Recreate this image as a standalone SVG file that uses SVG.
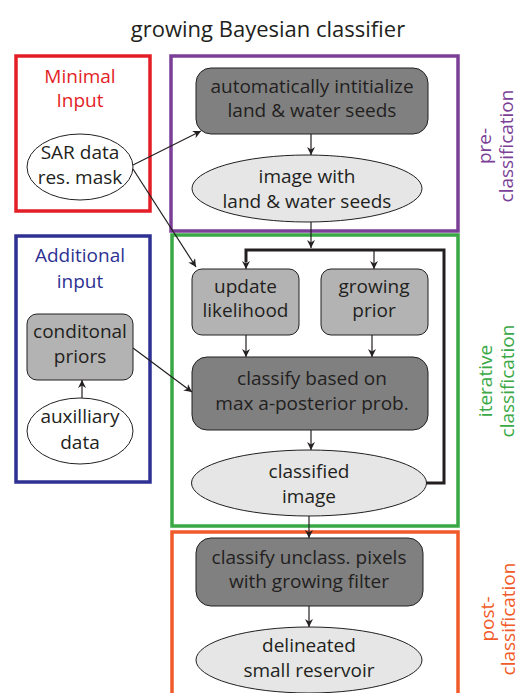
<svg xmlns="http://www.w3.org/2000/svg" width="520" height="693" viewBox="0 0 520 693">
<defs>
<marker id="ah" viewBox="0 0 10 10" refX="10" refY="5" markerWidth="8" markerHeight="8" markerUnits="userSpaceOnUse" orient="auto">
<path d="M0,0 L10,5 L0,10 L3,5 z" fill="#231f20"/>
</marker>
<style>
text{font-family:"Open Sans","Liberation Sans",sans-serif;font-size:19px;fill:#231f20;text-anchor:middle}
.dark{fill:#808080;stroke:#231f20;stroke-width:1}
.light{fill:#b3b3b3;stroke:#231f20;stroke-width:1}
.ell{fill:#e6e6e6;stroke:#231f20;stroke-width:1}
.wht{fill:#ffffff;stroke:#231f20;stroke-width:1}
.con{fill:none;stroke:#231f20;stroke-width:1.2;marker-end:url(#ah)}
.frame{fill:none;stroke-width:3.5}
</style>
</defs>
<rect width="520" height="693" fill="#ffffff"/>
<text x="268" y="37" style="font-size:22px">growing Bayesian classifier</text>

<g id="frames">
<rect x="16" y="56" width="134" height="155" class="frame" stroke="#e31e26"/>
<rect x="171" y="56" width="287" height="175" class="frame" stroke="#7b3f98"/>
<rect x="16" y="236" width="134" height="246" class="frame" stroke="#2e3192"/>
<rect x="172" y="235" width="286" height="291" class="frame" stroke="#39a845"/>
<rect x="172" y="532" width="286" height="170" class="frame" stroke="#f15a29"/>
</g>

<g id="labels">
<text x="80" y="83" style="fill:#e31e26">Minimal</text>
<text x="80" y="107" style="fill:#e31e26">Input</text>
<text x="80" y="262" style="fill:#2e3192">Additional</text>
<text x="80" y="288" style="fill:#2e3192">input</text>
<text transform="translate(491,146) rotate(-90)" style="fill:#7b3f98">pre-</text>
<text transform="translate(513,146) rotate(-90)" style="fill:#7b3f98">classification</text>
<text transform="translate(492,381) rotate(-90)" style="fill:#39a845">iterative</text>
<text transform="translate(514,381) rotate(-90)" style="fill:#39a845">classification</text>
<text transform="translate(494,619) rotate(-90)" style="fill:#f15a29">post-</text>
<text transform="translate(515,619) rotate(-90)" style="fill:#f15a29">classification</text>
</g>

<g id="connectors">
<line x1="133" y1="165" x2="201" y2="131" class="con"/>
<line x1="133" y1="169" x2="196" y2="267" class="con"/>
<line x1="311" y1="134" x2="311" y2="155" class="con"/>
<line x1="311" y1="222" x2="311" y2="248" class="con"/>
<path d="M426,483 H444 V250 H246 V262" class="con" style="stroke-width:3;marker-end:none"/>
<line x1="246" y1="251" x2="246" y2="269" class="con"/>
<line x1="374" y1="251" x2="374" y2="269" class="con"/>
<line x1="246" y1="335" x2="246" y2="357" class="con"/>
<line x1="372" y1="335" x2="372" y2="357" class="con"/>
<line x1="133" y1="348" x2="192" y2="392" class="con"/>
<line x1="82" y1="398" x2="82" y2="380" class="con"/>
<line x1="311" y1="430" x2="311" y2="450" class="con"/>
<line x1="309" y1="516" x2="309" y2="538" class="con"/>
<line x1="309" y1="606" x2="309" y2="627" class="con"/>
</g>

<g id="sar">
<ellipse cx="80" cy="167" rx="53" ry="33" class="wht"/>
<text x="80" y="159">SAR data</text>
<text x="80" y="184">res. mask</text>
</g>

<g id="init">
<rect x="196" y="68" width="232" height="66" rx="15" class="dark"/>
<text x="312" y="93">automatically intitialize</text>
<text x="312" y="117">land &amp; water seeds</text>
</g>

<g id="seeds">
<ellipse cx="307" cy="188.5" rx="115" ry="33.5" class="ell"/>
<text x="307" y="183">image with</text>
<text x="307" y="208">land &amp; water seeds</text>
</g>

<g id="likelihood">
<rect x="192" y="269" width="107" height="66" rx="10" class="light"/>
<text x="245.5" y="293">update</text>
<text x="245.5" y="317">likelihood</text>
</g>

<g id="prior">
<rect x="321" y="269" width="107" height="66" rx="10" class="light"/>
<text x="374" y="293">growing</text>
<text x="374" y="317">prior</text>
</g>

<g id="classify">
<rect x="192" y="357" width="236" height="73" rx="15" class="dark"/>
<text x="312" y="385">classify based on</text>
<text x="312" y="410">max a-posterior prob.</text>
</g>

<g id="classified">
<ellipse cx="309" cy="483" rx="117.5" ry="33" class="ell"/>
<text x="309" y="478">classified</text>
<text x="309" y="503">image</text>
</g>

<g id="condprior">
<rect x="27" y="314" width="106" height="66" rx="10" class="light"/>
<text x="80" y="338">conditonal</text>
<text x="80" y="363">priors</text>
</g>

<g id="aux">
<ellipse cx="80" cy="431" rx="53" ry="33" class="wht"/>
<text x="80" y="423">auxilliary</text>
<text x="80" y="449">data</text>
</g>

<g id="unclass">
<rect x="196" y="538" width="227" height="68" rx="15" class="dark"/>
<text x="309" y="564">classify unclass. pixels</text>
<text x="309" y="588">with growing filter</text>
</g>

<g id="reservoir">
<ellipse cx="309" cy="660" rx="113" ry="33" class="ell"/>
<text x="309" y="652">delineated</text>
<text x="309" y="677">small reservoir</text>
</g>
</svg>
